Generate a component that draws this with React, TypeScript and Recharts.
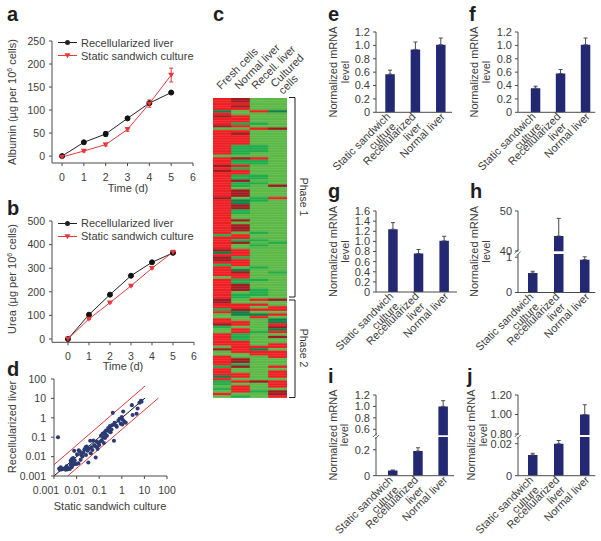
import React from 'react';
import {
  Bar,
  BarChart,
  Cell,
  ErrorBar,
  Legend,
  Line,
  LineChart,
  ReferenceLine,
  Scatter,
  ScatterChart,
  XAxis,
  YAxis,
  ZAxis,
} from 'recharts';

const FONT = '"Liberation Sans", Arial, sans-serif';
const INK = '#3c3c3c';
const AXIS = '#4a4a4a';
const NAVY = '#232873';
const RED = '#e8383a';
const TEXT_SIZE = 11;
const AXIS_WIDTH = 50;

// panels a, b
const days = [0, 1, 2, 3, 4, 5];
const dayTicks = [0, 1, 2, 3, 4, 5, 6];
const albuminRecell = [0, 30, 48, 82, 115, 138];
const albuminRecellErr = [2, 3, 5, 3, 3, 2];
const albuminStatic = [-2, 11, 25, 58, 114, 176];
const albuminStaticErr = [1, 2, 3, 4, 8, 15];
const albuminTicks = [0, 50, 100, 150, 200, 250];
const ureaRecell = [0, 103, 188, 268, 325, 365];
const ureaStatic = [0, 85, 154, 225, 300, 368];
const ureaStaticErr = [2, 2, 2, 3, 3, 8];
const ureaTicks = [0, 100, 200, 300, 400, 500];

// panel d
const logTicks = [0.001, 0.01, 0.1, 1, 10, 100];
const staticExpr = [
  0.0015, 0.0017, 0.0018, 0.002, 0.0022, 0.0025, 0.003, 0.0033, 0.0036, 0.004, 0.0045, 0.005, 0.0055, 0.006, 0.0065,
  0.0065, 0.0055, 0.0062, 0.007, 0.008, 0.0078, 0.0082, 0.01, 0.0105, 0.012, 0.0125, 0.014, 0.015, 0.016, 0.018, 0.02,
  0.022, 0.025, 0.026, 0.028, 0.03, 0.033, 0.035, 0.04, 0.042, 0.045, 0.05, 0.055, 0.06, 0.065, 0.07, 0.075, 0.08,
  0.085, 0.09, 0.1, 0.11, 0.12, 0.13, 0.14, 0.15, 0.16, 0.17, 0.18, 0.19, 0.2, 0.22, 0.25, 0.27, 0.3, 0.32, 0.35, 0.38,
  0.4, 0.45, 0.48, 0.55, 0.6, 0.7, 0.8, 0.9, 1, 1.05, 1.1, 1.15, 1.3, 1.5, 2.8, 3, 4.5, 5, 6, 7, 7.5,
];
const recellExpr = [
  0.1, 0.0024, 0.0021, 0.0028, 0.0022, 0.0023, 0.0025, 0.0021, 0.0032, 0.0022, 0.0025, 0.0023, 0.0038, 0.0028, 0.0035,
  0.005, 0.0062, 0.0075, 0.0085, 0.0042, 0.0198, 0.0065, 0.0042, 0.013, 0.0045, 0.021, 0.018, 0.0068, 0.012, 0.01,
  0.016, 0.023, 0.03, 0.012, 0.033, 0.02, 0.005, 0.025, 0.065, 0.015, 0.03, 0.022, 0.068, 0.04, 0.035, 0.009, 0.06,
  0.03, 0.025, 0.05, 0.04, 0.06, 0.12, 0.07, 0.15, 0.1, 0.05, 0.18, 0.09, 0.14, 0.22, 0.12, 0.3, 0.2, 0.38, 0.18, 0.25,
  0.42, 1.8, 0.065, 0.55, 0.4, 0.35, 0.7, 0.9, 0.5, 1.1, 0.45, 0.8, 2.1, 0.65, 0.55, 4.5, 1.4, 1.6, 3, 6, 7.5, 6.8,
];

// panel c: runs of row colours, one list per column
const heatFresh =
  'r5 k1 r1 d1 r3 d1 l1 r10 l1 r3 d1 r1 d1 r10 d1 r8 r6 g1 r5 d1 k1 r1 d2 r1 g1 r4 l1 r8 d2 r2 g1 r1 l2 r2 d1 g1 l2 r5 l1 d1 l2 r4 g1 r3 k1 r1 g2 l1 g1 l1 r1 l1';
const heatNormal =
  'd2 r1 d1 r1 l2 r3 g1 r1 l1 r1 d1 r4 g4 l1 d1 g2 r1 g1 r2 g2 d1 g2 l1 d3 l1 k2 d2 g2 l2 d1 l1 d3 l1 r2 g1 d1 l2 r3 g1 r3 l1 k1 d1 r2 g2 d3 l1 g2 l2 r2 d1 k2 l2 r2 l1 r2 g3 r5 l2 d2 g1 d1 l2 r2 l1 r1 l1 r3 l1 g1';
const heatRecell =
  'l5 r1 l4 g1 l1 r1 l6 g3 l2 r1 g2 l4 g2 l1 g1 l5 g2 l7 l5 g1 l2 g1 l1 g1 l8 g1 l4 g1 l3 g3 l1 r1 l1 r1 l1 r1 l1 k1 r1 l5 g1 l5 r1 k1 r2 l10 d1 l3 g1 l2';
const heatCultured =
  'l5 k1 l6 d1 l22 d1 l4 r1 l8 l9 g1 l11 g1 l10 d1 l2 r2 l1 r1 l1 k2 r1 d1 k1 r1 l1 d1 l2 r2 l1 r3 l3 r1 l1 r3 l1 r3 l1 d2 r1';
const heatColumns = [heatFresh, heatNormal, heatRecell, heatCultured];
const heatKeys = ['fresh', 'normal', 'recell', 'cultured'];
const heatColors: Record<string, string> = {
  r: '#ee2024',
  d: '#a01c22',
  g: '#22ad4b',
  k: '#128046',
  l: '#5cb947',
};

// panels e-j
const categories = ['Static sandwich culture', 'Recellularized liver', 'Normal liver'];
const categoryLines: Record<string, string[]> = {
  'Static sandwich culture': ['Static sandwich', 'culture'],
  'Recellularized liver': ['Recellularized', 'liver'],
  'Normal liver': ['Normal liver'],
};
const geneE = [0.57, 0.94, 1.01];
const geneEErr = [0.06, 0.11, 0.1];
const geneF = [0.36, 0.58, 1.01];
const geneFErr = [0.03, 0.06, 0.1];
const geneG = [1.24, 0.76, 1.01];
const geneGErr = [0.13, 0.08, 0.09];
const geneH = [0.55, 43.75, 0.93];
const geneHErr = [0.05, 4.4, 0.08];
const geneI = [0.04, 0.19, 1.0];
const geneIErr = [0.004, 0.025, 0.1];
const geneJ = [0.013, 0.02, 1.0];
const geneJErr = [0.001, 0.002, 0.1];
const ticksEF = [0, 0.2, 0.4, 0.6, 0.8, 1, 1.2];
const ticksG = [0, 0.2, 0.4, 0.6, 0.8, 1, 1.2, 1.4, 1.6];

const expandRuns = (runs: string) =>
  runs.split(' ').flatMap(run => Array<string>(Number(run.slice(1))).fill(run[0]));

const heatCells = heatColumns.map(expandRuns);
const heatRows = heatCells[0].map((_, i) => ({ row: i, fresh: 1, normal: 1, recell: 1, cultured: 1 }));

const frame = (L: number, T: number, R: number, B: number, below: number, spare = 0) => ({
  style: { position: 'absolute' as const, left: L - AXIS_WIDTH, top: T - 8 },
  width: R - L + AXIS_WIDTH + 10,
  height: B - T + 8 + below + spare,
  margin: { top: 8, right: 10, bottom: spare, left: 0 },
});

const tickStyle = { fill: INK, fontSize: 10.5, fontFamily: FONT };

const TriangleDot = ({ cx, cy, color = RED }: any) =>
  cx == null || cy == null ? null : (
    <path d={`M${cx - 3} ${cy - 2.2}L${cx + 3} ${cy - 2.2}L${cx} ${cy + 2.8}Z`} fill={color} />
  );

const SeriesLegend = ({ payload }: any) => (
  <div>
    {(payload || []).map((item: any) => (
      <div key={item.value} style={{ display: 'flex', alignItems: 'center', height: 13 }}>
        <svg width={19} height={9} style={{ marginRight: 4 }}>
          <line x1={0} x2={19} y1={4.5} y2={4.5} stroke={item.color} strokeWidth={1} />
          {item.color === RED ? <TriangleDot cx={9.5} cy={4.5} /> : <circle cx={9.5} cy={4.5} r={2.5} fill={item.color} />}
        </svg>
        <span style={{ fontSize: TEXT_SIZE, color: INK, fontFamily: FONT, whiteSpace: 'nowrap' }}>{item.value}</span>
      </div>
    ))}
  </div>
);

const TimeCourse = ({ box, legendTop, labelGap, domainX, domainY, ticksY, recell, recellErr, stat, statErr }: any) => {
  const data = days.map((day, i) => ({
    day,
    recell: recell[i],
    recellErr: recellErr ? recellErr[i] : undefined,
    stat: stat[i],
    statErr: statErr[i],
  }));
  return (
    <LineChart {...frame(box[0], box[1], box[2], box[3], 24)} data={data}>
      <XAxis
        dataKey="day"
        type="number"
        domain={domainX}
        ticks={dayTicks}
        interval={0}
        height={24}
        allowDataOverflow
        tick={tickStyle}
        tickSize={3}
        tickMargin={labelGap}
        stroke={AXIS}
      />
      <YAxis
        type="number"
        domain={domainY}
        ticks={ticksY}
        interval={0}
        width={AXIS_WIDTH}
        allowDataOverflow
        tick={tickStyle}
        tickSize={3}
        tickMargin={4}
        stroke={AXIS}
      />
      <Legend
        layout="vertical"
        align="center"
        verticalAlign="middle"
        content={<SeriesLegend />}
        wrapperStyle={{ left: AXIS_WIDTH + 6, top: legendTop, width: 150 }}
      />
      <Line
        name="Recellularized liver"
        dataKey="recell"
        stroke="#222222"
        strokeWidth={1}
        dot={{ r: 2.5, fill: '#111111', stroke: '#111111' }}
        isAnimationActive={false}
      >
        {recellErr ? <ErrorBar dataKey="recellErr" width={2} stroke="#222222" strokeWidth={1} direction="y" /> : null}
      </Line>
      <Line
        name="Static sandwich culture"
        dataKey="stat"
        stroke={RED}
        strokeWidth={1}
        dot={(props: any) => <TriangleDot key={props.index} cx={props.cx} cy={props.cy} />}
        isAnimationActive={false}
      >
        <ErrorBar dataKey="statErr" width={2} stroke={RED} strokeWidth={1} direction="y" />
      </Line>
    </LineChart>
  );
};

// the first labels sit left of their ticks in the reference
const logLabelShift: Record<number, number> = { 0.001: -8, 0.01: -2 };
const LogTick = ({ x, y, payload }: any) => (
  <text x={x + (logLabelShift[payload.value] || 0)} y={y} dy="0.71em" textAnchor="middle" {...tickStyle}>
    {String(payload.value)}
  </text>
);

const ScatterPanel = () => {
  const points = staticExpr.map((x, i) => ({ x, y: recellExpr[i] }));
  return (
    <ScatterChart {...frame(54, 378.7, 167, 475.7, 24)}>
      <XAxis
        dataKey="x"
        type="number"
        scale="log"
        domain={[0.001, 100]}
        ticks={logTicks}
        interval={0}
        height={24}
        allowDataOverflow
        tick={<LogTick />}
        tickSize={3}
        tickMargin={8}
        stroke={AXIS}
      />
      <YAxis
        dataKey="y"
        type="number"
        scale="log"
        domain={[0.001, 100]}
        ticks={logTicks}
        interval={0}
        width={AXIS_WIDTH}
        allowDataOverflow
        tick={tickStyle}
        tickSize={3}
        tickMargin={5}
        tickFormatter={(v: number) => String(v)}
        stroke={AXIS}
      />
      <ZAxis dataKey="x" range={[13, 13]} />
      <Scatter data={points} fill="#2b3a72" isAnimationActive={false} />
      <ReferenceLine segment={[{ x: 0.001, y: 0.0038 }, { x: 10.7, y: 43.6 }]} stroke={RED} strokeWidth={1} ifOverflow="visible" />
      <ReferenceLine segment={[{ x: 0.004, y: 0.001 }, { x: 42, y: 10.5 }]} stroke={RED} strokeWidth={1} ifOverflow="visible" />
      <ReferenceLine segment={[{ x: 0.001, y: 0.001 }, { x: 10.7, y: 10.5 }]} stroke="#111111" strokeWidth={1} ifOverflow="visible" />
    </ScatterChart>
  );
};

const HeatmapPanel = () => (
  <BarChart
    style={{ position: 'absolute', left: 213, top: 98 }}
    width={74}
    height={300}
    layout="vertical"
    data={heatRows}
    barCategoryGap={0}
    barSize={3}
    margin={{ top: 0, right: 0, bottom: 0, left: 0 }}
  >
    <XAxis type="number" domain={[0, 4]} hide />
    <YAxis type="category" dataKey="row" hide />
    {heatKeys.map((key, c) => (
      <Bar key={key} dataKey={key} stackId="heat" isAnimationActive={false}>
        {heatRows.map((_, i) => (
          <Cell key={i} fill={heatColors[heatCells[c][i]]} stroke={heatColors[heatCells[c][i]]} strokeWidth={0.6} />
        ))}
      </Bar>
    ))}
  </BarChart>
);

const CategoryTick = ({ x, y, payload }: any) => {
  const lines = categoryLines[payload.value] || [payload.value];
  const ax = x + (lines.length === 1 ? 5 : 1);
  const ay = y + 5;
  return (
    <text transform={`rotate(-45 ${ax} ${ay})`} textAnchor="end" fontSize={TEXT_SIZE} fontFamily={FONT} fill={INK} x={ax} y={ay}>
      {lines.map((line, i) => (
        <tspan key={line} x={i ? ax - 3 : ax} dy={i ? 11 : 0}>
          {line}
        </tspan>
      ))}
    </text>
  );
};

// one segment of a bar panel; broken axes use two of these stacked
const BarSegment = ({ box, pad, values, errors, domain, ticks, format, showCategories }: any) => {
  const [lo, hi] = domain;
  const data = categories.map((name, i) => {
    const inRange = values[i] > lo;
    const clipped = values[i] > hi;
    return {
      name,
      value: inRange ? Math.min(values[i], hi) : null,
      err: inRange && !clipped ? [0, errors[i]] : undefined,
    };
  });
  const below = showCategories ? 80 : 0;
  return (
    <BarChart {...frame(box[0], box[1], box[2], box[3], below, showCategories ? 0 : 10)} data={data} barSize={9.5}>
      <XAxis
        dataKey="name"
        hide={!showCategories}
        height={80}
        interval={0}
        padding={{ left: pad[0], right: pad[1] }}
        tick={<CategoryTick />}
        tickLine={false}
        tickSize={0}
        tickMargin={0}
        stroke={AXIS}
      />
      <YAxis
        type="number"
        domain={domain}
        ticks={ticks}
        interval={0}
        width={AXIS_WIDTH}
        allowDataOverflow
        tick={{ ...tickStyle, fontSize: TEXT_SIZE }}
        tickSize={3}
        tickMargin={3}
        tickFormatter={format}
        stroke={AXIS}
      />
      <Bar dataKey="value" fill={NAVY} isAnimationActive={false}>
        <ErrorBar dataKey="err" width={2} stroke="#4a4a4a" strokeWidth={1} direction="y" />
      </Bar>
    </BarChart>
  );
};

const oneDecimal = (v: number) => (v === 0 ? '0' : v.toFixed(1));
const twoDecimals = (v: number) => (v === 0 ? '0' : v.toFixed(2));

const PanelLetter = ({ x, y, children }: any) => (
  <text x={x} y={y} fontSize={20} fontWeight={700} fill="#1e1e1e" fontFamily={FONT}>
    {children}
  </text>
);

const VerticalText = ({ x, y, children }: any) => (
  <text x={x} y={y} transform={`rotate(-90 ${x} ${y})`} textAnchor="middle" fontSize={TEXT_SIZE} fill={INK} fontFamily={FONT}>
    {children}
  </text>
);

const MrnaTitle = ({ x1, x2, y }: any) => (
  <>
    <VerticalText x={x1} y={y}>Normalized mRNA</VerticalText>
    <VerticalText x={x2} y={y}>level</VerticalText>
  </>
);

const HorizontalText = ({ x, y, children }: any) => (
  <text x={x} y={y} textAnchor="middle" fontSize={TEXT_SIZE} fill={INK} fontFamily={FONT}>
    {children}
  </text>
);

const SlantText = ({ x, y, children }: any) => (
  <text x={x} y={y} transform={`rotate(-45 ${x} ${y})`} fontSize={TEXT_SIZE} fill={INK} fontFamily={FONT}>
    {children}
  </text>
);

const BreakMark = ({ x, y }: any) => (
  <g stroke={AXIS} strokeWidth={0.8}>
    <line x1={x - 3} y1={y + 1} x2={x + 1} y2={y - 3} />
    <line x1={x - 1} y1={y + 3} x2={x + 3} y2={y - 1} />
  </g>
);

const Bracket = ({ x, top, bottom }: any) => (
  <path d={`M${x - 6} ${top}H${x}V${bottom}H${x - 6}`} fill="none" stroke="#1e1e1e" strokeWidth={1} />
);

const Annotations = () => (
  <svg width={601} height={541} style={{ position: 'absolute', left: 0, top: 0, pointerEvents: 'none' }}>
    <PanelLetter x={7} y={21}>a</PanelLetter>
    <PanelLetter x={7} y={215}>b</PanelLetter>
    <PanelLetter x={7} y={376}>d</PanelLetter>
    <PanelLetter x={213} y={21}>c</PanelLetter>
    <PanelLetter x={328} y={21}>e</PanelLetter>
    <PanelLetter x={469} y={21}>f</PanelLetter>
    <PanelLetter x={328} y={198}>g</PanelLetter>
    <PanelLetter x={470} y={198}>h</PanelLetter>
    <PanelLetter x={328} y={383}>i</PanelLetter>
    <PanelLetter x={467} y={383}>j</PanelLetter>

    <VerticalText x={16} y={102}>
      Albumin (µg per 10<tspan dy={-4} fontSize={7}>6</tspan><tspan dy={4}> cells)</tspan>
    </VerticalText>
    <VerticalText x={16} y={279}>
      Urea (µg per 10<tspan dy={-4} fontSize={7}>6</tspan><tspan dy={4}> cells)</tspan>
    </VerticalText>
    <VerticalText x={16} y={427}>Recellularized liver</VerticalText>
    <HorizontalText x={128} y={192}>Time (d)</HorizontalText>
    <HorizontalText x={123} y={370}>Time (d)</HorizontalText>
    <HorizontalText x={110} y={510}>Static sandwich culture</HorizontalText>

    <SlantText x={221} y={90}>Fresh cells</SlantText>
    <SlantText x={239} y={90}>Normal liver</SlantText>
    <SlantText x={256} y={90}>Recell. liver</SlantText>
    <SlantText x={275} y={88}>Cultured</SlantText>
    <SlantText x={283} y={95}>cells</SlantText>

    <Bracket x={295} top={97.5} bottom={297} />
    <Bracket x={295} top={300} bottom={397.5} />
    <text x={300} y={197} transform="rotate(90 300 197)" textAnchor="middle" fontSize={10.5} fill={INK} fontFamily={FONT}>Phase 1</text>
    <text x={300} y={348} transform="rotate(90 300 348)" textAnchor="middle" fontSize={10.5} fill={INK} fontFamily={FONT}>Phase 2</text>

    <MrnaTitle x1={337} x2={349} y={72} />
    <MrnaTitle x1={478} x2={490} y={72} />
    <MrnaTitle x1={337} x2={349} y={251.5} />
    <MrnaTitle x1={478} x2={490} y={251.5} />
    <MrnaTitle x1={337} x2={348} y={435} />
    <MrnaTitle x1={475} x2={487} y={435} />

    <BreakMark x={517.7} y={252.5} />
    <BreakMark x={376} y={436} />
    <BreakMark x={517.7} y={436} />
  </svg>
);

const App: React.FC = () => (
  <div style={{ position: 'absolute', left: 0, top: 0, width: 601, height: 541, background: '#fff', fontFamily: FONT }}>
    <TimeCourse
      box={[52, 41, 193, 163]}
      legendTop={3}
      labelGap={8}
      domainX={[-0.46, 6]}
      domainY={[-15, 250]}
      ticksY={albuminTicks}
      recell={albuminRecell}
      recellErr={albuminRecellErr}
      stat={albuminStatic}
      statErr={albuminStaticErr}
    />
    <TimeCourse
      box={[52, 220.7, 194, 342]}
      legendTop={4}
      labelGap={7}
      domainX={[-0.76, 6]}
      domainY={[-14, 500]}
      ticksY={ureaTicks}
      recell={ureaRecell}
      stat={ureaStatic}
      statErr={ureaStaticErr}
    />
    <ScatterPanel />
    <HeatmapPanel />

    <BarSegment box={[376, 32, 452, 112.3]} pad={[1.3, -1.4]} values={geneE} errors={geneEErr} domain={[0, 1.2]} ticks={ticksEF} format={oneDecimal} showCategories />
    <BarSegment box={[517.7, 32, 595, 112.3]} pad={[4.8, -2.5]} values={geneF} errors={geneFErr} domain={[0, 1.2]} ticks={ticksEF} format={oneDecimal} showCategories />
    <BarSegment box={[375.7, 211, 456.7, 292]} pad={[4.2, 0]} values={geneG} errors={geneGErr} domain={[0, 1.6]} ticks={ticksG} format={oneDecimal} showCategories />

    <BarSegment box={[517.7, 211, 595, 251.4]} pad={[2, -2.7]} values={geneH} errors={geneHErr} domain={[39.9, 50]} ticks={[40, 50]} format={String} />
    <BarSegment box={[517.7, 253.5, 595, 292]} pad={[2, -2.7]} values={geneH} errors={geneHErr} domain={[0, 1.09]} ticks={[0, 1]} format={String} showCategories />

    <BarSegment box={[376, 394.7, 454, 435.3]} pad={[4, -1.6]} values={geneI} errors={geneIErr} domain={[0.49, 1.2]} ticks={[0.6, 0.8, 1, 1.2]} format={oneDecimal} />
    <BarSegment box={[376, 437.3, 454, 476]} pad={[4, -1.6]} values={geneI} errors={geneIErr} domain={[0, 0.298]} ticks={[0, 0.2]} format={oneDecimal} showCategories />

    <BarSegment box={[517.7, 395.3, 595, 435.3]} pad={[2, -2.7]} values={geneJ} errors={geneJErr} domain={[0.79, 1.2]} ticks={[0.8, 1, 1.2]} format={twoDecimals} />
    <BarSegment box={[517.7, 437.3, 595, 476]} pad={[2, -2.7]} values={geneJ} errors={geneJErr} domain={[0, 0.0242]} ticks={[0, 0.02]} format={twoDecimals} showCategories />

    <Annotations />
  </div>
);

export default App;
